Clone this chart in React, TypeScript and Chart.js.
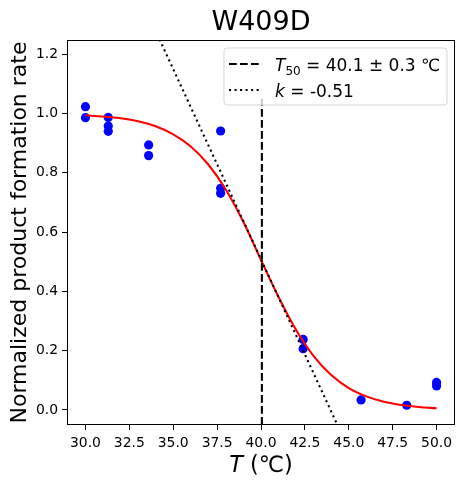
import { useEffect, useRef } from "react";
import { Chart, registerables } from "chart.js";

Chart.register(...registerables);

const pointT = [30, 30, 31.3, 31.3, 31.3, 33.6, 33.6, 37.7, 37.7, 37.7, 42.4, 42.4, 45.7, 48.3, 50, 50];
const pointRate = [1.023, 0.986, 0.987, 0.958, 0.94, 0.894, 0.858, 0.941, 0.748, 0.731, 0.238, 0.207, 0.034, 0.016, 0.093, 0.081];

const fitT = [30, 31, 32, 33, 34, 35, 36, 37, 38, 39, 40, 41, 42, 43, 44, 45, 46, 47, 48, 49, 50];
const fitRate = [0.994, 0.99, 0.984, 0.974, 0.957, 0.93, 0.889, 0.828, 0.743, 0.634, 0.506, 0.381, 0.27, 0.182, 0.118, 0.074, 0.046, 0.028, 0.017, 0.01, 0.006];

const t50Line = [40.05, 40.05];
const t50Rate = [-0.05, 1.05];
const slopeT = [34.22, 44.35];
const slopeRate = [1.25, -0.05];

const xTicks = [30, 32.5, 35, 37.5, 40, 42.5, 45, 47.5, 50];
const yTicks = [0, 0.2, 0.4, 0.6, 0.8, 1.0, 1.2];

const FONT = "'DejaVu Sans', sans-serif";

const zip = (xs: number[], ys: number[]) => xs.map((x, i) => ({ x, y: ys[i] }));

const decorPlugin = {
  id: "decor",
  afterDatasetsDraw(chart: any) {
    const { ctx, chartArea: a } = chart;
    ctx.save();
    ctx.strokeStyle = "#000";
    ctx.lineWidth = 1;
    ctx.strokeRect(a.left + 0.5, a.top + 0.5, a.right - a.left - 1, a.bottom - a.top - 1);
    ctx.restore();
  },
  afterDraw(chart: any) {
    const { ctx, chartArea: a } = chart;
    const cx = (a.left + a.right) / 2;
    const cy = (a.top + a.bottom) / 2;
    ctx.save();
    ctx.fillStyle = "#000";
    ctx.textBaseline = "alphabetic";
    // title
    ctx.font = `27px ${FONT}`;
    ctx.textAlign = "center";
    ctx.fillText("W409D", cx, 30);
    // x label
    ctx.textAlign = "left";
    ctx.font = `italic 22.5px ${FONT}`;
    const wT = ctx.measureText("T").width;
    ctx.font = `22.5px ${FONT}`;
    const wR = ctx.measureText(" (℃)").width;
    const x0 = cx - (wT + wR) / 2;
    ctx.font = `italic 22.5px ${FONT}`;
    ctx.fillText("T", x0, 472);
    ctx.font = `22.5px ${FONT}`;
    ctx.fillText(" (℃)", x0 + wT, 472);
    // y label
    ctx.save();
    ctx.translate(25.5, cy);
    ctx.rotate(-Math.PI / 2);
    ctx.textAlign = "center";
    ctx.font = `22px ${FONT}`;
    ctx.fillText("Normalized product formation rate", 0, 0);
    ctx.restore();

    // legend
    const bx = 224, by = 48, bw = 223, bh = 57, r = 3;
    ctx.beginPath();
    ctx.moveTo(bx + r, by);
    ctx.arcTo(bx + bw, by, bx + bw, by + bh, r);
    ctx.arcTo(bx + bw, by + bh, bx, by + bh, r);
    ctx.arcTo(bx, by + bh, bx, by, r);
    ctx.arcTo(bx, by, bx + bw, by, r);
    ctx.closePath();
    ctx.fillStyle = "rgba(255,255,255,0.8)";
    ctx.fill();
    ctx.strokeStyle = "rgba(204,204,204,0.8)";
    ctx.lineWidth = 1;
    ctx.stroke();

    ctx.strokeStyle = "#000";
    ctx.lineWidth = 2.08;
    ctx.setLineDash([7.7, 3.3]);
    ctx.beginPath();
    ctx.moveTo(229, 64);
    ctx.lineTo(262, 64);
    ctx.stroke();
    ctx.setLineDash([2.08, 3.44]);
    ctx.beginPath();
    ctx.moveTo(229, 90);
    ctx.lineTo(262, 90);
    ctx.stroke();
    ctx.setLineDash([]);

    ctx.fillStyle = "#000";
    ctx.textAlign = "left";
    let tx = 275;
    const b1 = 71;
    ctx.font = `italic 17px ${FONT}`;
    ctx.fillText("T", tx, b1);
    tx += ctx.measureText("T").width;
    ctx.font = `12px ${FONT}`;
    ctx.fillText("50", tx, b1 + 4);
    tx += ctx.measureText("50").width;
    ctx.font = `17px ${FONT}`;
    ctx.fillText(" = 40.1 ± 0.3 ℃", tx, b1);

    const b2 = 96.5;
    tx = 275;
    ctx.font = `italic 17px ${FONT}`;
    ctx.fillText("k", tx, b2);
    tx += ctx.measureText("k").width;
    ctx.font = `17px ${FONT}`;
    ctx.fillText(" = -0.51", tx, b2);
    ctx.restore();
  },
};

export default function App() {
  const ref = useRef<HTMLCanvasElement | null>(null);
  useEffect(() => {
    if (!ref.current) return;
    const chart = new Chart(ref.current, {
      type: "scatter",
      data: {
        datasets: [
          {
            type: "line",
            data: zip(t50Line, t50Rate),
            borderColor: "#000",
            borderWidth: 2.08,
            borderDash: [7.7, 3.3],
            pointRadius: 0,
            showLine: true,
            fill: false,
            order: 0,
          } as any,
          {
            type: "line",
            data: zip(slopeT, slopeRate),
            borderColor: "#000",
            borderWidth: 2.08,
            borderDash: [2.08, 3.44],
            pointRadius: 0,
            showLine: true,
            fill: false,
            order: 0,
          } as any,
          {
            type: "line",
            data: zip(fitT, fitRate),
            borderColor: "#ff0000",
            borderWidth: 2.08,
            pointRadius: 0,
            cubicInterpolationMode: "monotone",
            showLine: true,
            fill: false,
            order: 1,
          } as any,
          {
            type: "scatter",
            data: zip(pointT, pointRate),
            backgroundColor: "#0000ff",
            borderColor: "#0000ff",
            borderWidth: 0,
            pointRadius: 4.6,
            order: 2,
          } as any,
        ],
      },
      options: {
        responsive: false,
        animation: false,
        devicePixelRatio: 1,
        layout: { padding: { left: 0, right: 9, top: 40, bottom: 0 } },
        plugins: { legend: { display: false }, tooltip: { enabled: false }, title: { display: false } },
        scales: {
          x: {
            type: "linear",
            min: 28.95,
            max: 51.05,
            afterBuildTicks: (s: any) => {
              s.ticks = xTicks.map((v) => ({ value: v }));
            },
            afterFit: (s: any) => {
              s.height = 62;
            },
            grid: { display: true, drawOnChartArea: false, tickLength: 5, tickColor: "#000", tickWidth: 1 },
            border: { display: false },
            ticks: {
              color: "#000",
              font: { family: FONT, size: 13.9 },
              padding: 5,
              maxRotation: 0,
              autoSkip: false,
              callback: (v: any) => Number(v).toFixed(1),
            },
          },
          y: {
            type: "linear",
            min: -0.0506,
            max: 1.248,
            afterBuildTicks: (s: any) => {
              s.ticks = yTicks.map((v) => ({ value: v }));
            },
            afterFit: (s: any) => {
              s.width = 67;
            },
            grid: { display: true, drawOnChartArea: false, tickLength: 5, tickColor: "#000", tickWidth: 1 },
            border: { display: false },
            ticks: {
              color: "#000",
              font: { family: FONT, size: 13.9 },
              padding: 4,
              autoSkip: false,
              callback: (v: any) => Number(v).toFixed(1),
            },
          },
        },
      },
      plugins: [decorPlugin],
    });
    return () => chart.destroy();
  }, []);
  return (
    <div style={{ position: "absolute", left: 0, top: 0, width: 464, height: 487, background: "#fff" }}>
      <canvas ref={ref} width={464} height={487} style={{ width: 464, height: 487, display: "block" }} />
    </div>
  );
}
